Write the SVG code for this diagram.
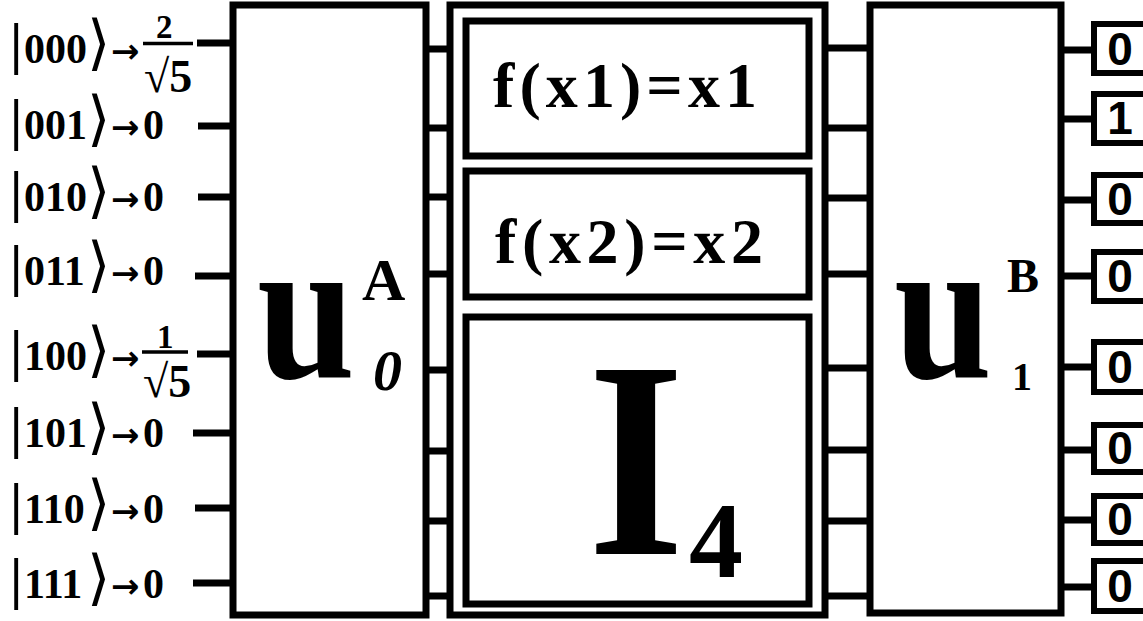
<svg xmlns="http://www.w3.org/2000/svg" width="1143" height="621" viewBox="0 0 1143 621">
<style>
.box{fill:#fff;stroke:#000;stroke-width:7}
.obox{fill:#fff;stroke:#000;stroke-width:6}
.w{stroke:#000;stroke-width:7;fill:none}
.s{font-family:"Liberation Serif","DejaVu Serif",serif;font-weight:bold;fill:#000}
.lab{font-size:42px}
.br{font-size:60px;font-family:"DejaVu Sans","Liberation Serif",sans-serif;font-weight:normal}
.bar{font-size:56px}
.ar{font-size:34px;font-family:"DejaVu Sans",sans-serif;font-weight:bold}
.num{font-size:33px}
.den{font-size:46px}
.out{font-family:"Liberation Sans",Arial,sans-serif;font-weight:bold;font-size:46px;text-anchor:middle}
.fx{font-size:64px}
</style>
<rect width="1143" height="621" fill="#fff"/>
<g id="connectors">
<path class="w" d="M197 43H233M198 126H233M198 197H233M195 276H233M197 354H233M193 433H233M195 508H233M193 583H233"/>
<path class="w" d="M426 49H450M426 128H450M426 197H450M426 274H450M426 370H450M426 451H450M426 521H450M426 596H450"/>
<path class="w" d="M825 48H870M825 128H870M825 198H870M825 274H870M825 368H870M825 450H870M825 521H870M825 596H870"/>
<path class="w" d="M1061 50H1094M1061 119H1094M1061 200H1094M1061 276H1094M1061 367H1094M1061 450H1094M1061 520H1094M1061 587H1094"/>
<path d="M143 43.5H193M142 352H188" stroke="#000" stroke-width="3.5"/>
</g>
<g id="inputs" class="s lab">
<text y="63"><tspan class="bar" x="10">|</tspan><tspan x="24">000</tspan><tspan class="br" x="87">⟩</tspan><tspan class="ar" x="111">→</tspan></text>
<text class="s num" x="156" y="38">2</text>
<text class="s den" x="144" y="92">√5</text>
<text y="139"><tspan class="bar" x="10">|</tspan><tspan x="24">001</tspan><tspan class="br" x="87">⟩</tspan><tspan class="ar" x="111">→</tspan><tspan x="143">0</tspan></text>
<text y="211"><tspan class="bar" x="10">|</tspan><tspan x="24">010</tspan><tspan class="br" x="87">⟩</tspan><tspan class="ar" x="111">→</tspan><tspan x="143">0</tspan></text>
<text y="285"><tspan class="bar" x="10">|</tspan><tspan x="24">011</tspan><tspan class="br" x="87">⟩</tspan><tspan class="ar" x="111">→</tspan><tspan x="143">0</tspan></text>
<text y="370"><tspan class="bar" x="10">|</tspan><tspan x="24">100</tspan><tspan class="br" x="87">⟩</tspan><tspan class="ar" x="111">→</tspan></text>
<text class="s num" x="157" y="348">1</text>
<text class="s den" x="143" y="397">√5</text>
<text y="447"><tspan class="bar" x="10">|</tspan><tspan x="24">101</tspan><tspan class="br" x="87">⟩</tspan><tspan class="ar" x="111">→</tspan><tspan x="143">0</tspan></text>
<text y="523"><tspan class="bar" x="10">|</tspan><tspan x="24">110</tspan><tspan class="br" x="87">⟩</tspan><tspan class="ar" x="111">→</tspan><tspan x="143">0</tspan></text>
<text y="598"><tspan class="bar" x="10">|</tspan><tspan x="24">111</tspan><tspan class="br" x="87">⟩</tspan><tspan class="ar" x="111">→</tspan><tspan x="143">0</tspan></text>
</g>
<g id="U0A">
<rect class="box" x="233" y="5" width="193" height="610"/>
<text class="s" font-size="205" transform="translate(257 377) scale(0.86 1)">u</text>
<text class="s" font-size="60" x="362" y="300">A</text>
<text class="s" font-size="58" font-style="italic" x="373" y="390">0</text>
</g>
<g id="Uf">
<rect class="box" x="450" y="5" width="375" height="610"/>
<g id="f1"><rect class="box" x="466" y="21" width="343" height="135"/>
<text class="s fx" x="493" y="107" textLength="264" lengthAdjust="spacing">f(x1)=x1</text></g>
<g id="f2"><rect class="box" x="466" y="171" width="343" height="126"/>
<text class="s fx" x="495" y="263" textLength="268" lengthAdjust="spacing">f(x2)=x2</text></g>
<g id="I4"><rect class="box" x="466" y="317" width="343" height="287"/>
<text class="s" font-size="281" transform="translate(588 554) scale(0.88 1)">I</text>
<text class="s" font-size="108" x="689" y="577">4</text></g>
</g>
<g id="U1B">
<rect class="box" x="870" y="5" width="191" height="608"/>
<text class="s" font-size="205" transform="translate(894 377) scale(0.86 1)">u</text>
<text class="s" font-size="48" x="1007" y="292">B</text>
<text class="s" font-size="40" x="1012" y="390">1</text>
</g>
<g id="outputs">
<rect class="obox" x="1094" y="24" width="60" height="49"/><text class="out" x="1120" y="65">0</text>
<rect class="obox" x="1094" y="94" width="60" height="49"/><text class="out" x="1120" y="134">1</text>
<rect class="obox" x="1094" y="175" width="60" height="48"/><text class="out" x="1120" y="215">0</text>
<rect class="obox" x="1094" y="252" width="60" height="49"/><text class="out" x="1120" y="292">0</text>
<rect class="obox" x="1094" y="342" width="60" height="50"/><text class="out" x="1120" y="383">0</text>
<rect class="obox" x="1094" y="425" width="60" height="47"/><text class="out" x="1120" y="464">0</text>
<rect class="obox" x="1094" y="496" width="60" height="47"/><text class="out" x="1120" y="535">0</text>
<rect class="obox" x="1094" y="561" width="60" height="50"/><text class="out" x="1120" y="602">0</text>
</g>
</svg>
